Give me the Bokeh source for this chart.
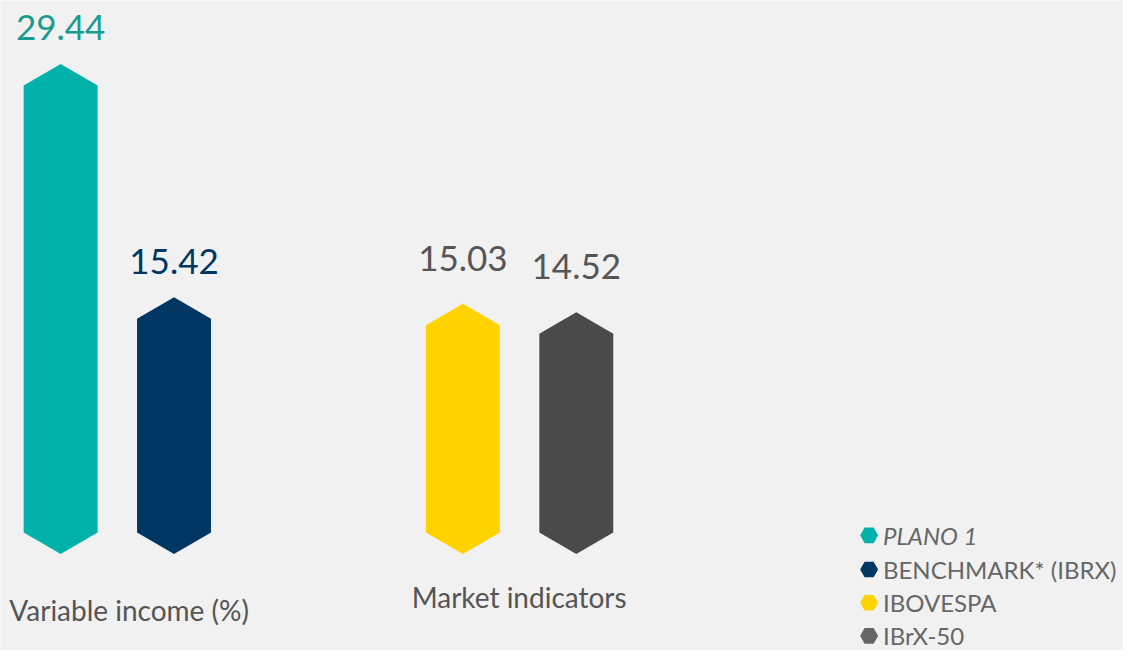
from bokeh.plotting import figure
from bokeh.models import ColumnDataSource, Range1d
from bokeh.embed import file_html
from bokeh.resources import INLINE
from bokeh.core.properties import value

# ---- data ----
series = ["PLANO 1", "BENCHMARK* (IBRX)", "IBOVESPA", "IBrX-50"]
values = [29.44, 15.42, 15.03, 14.52]
value_labels = ["29.44", "15.42", "15.03", "14.52"]
groups = ["Variable income (%)", "Market indicators"]

# ---- style ----
bar_colors = ["#00b2a9", "#003763", "#ffd200", "#4a4a4a"]
label_colors = ["#179c8f", "#003763", "#555555", "#555555"]
legend_colors = ["#00b2a9", "#003763", "#ffd200", "#666666"]
BG = "#f1f1f1"
FONT = "Lato"

W, H = 1123, 650            # figure size (page has 8px margin)
REF_W, REF_H = 1139, 666    # layout coordinate space
PX_PER_UNIT = 17.05         # layout px per value unit
ZERO_Y = 567                # layout px (from top) of value 0
TIP_PX = 22
BAR_W = 75
bar_centers = [61, 176, 469, 584]
label_offsets = [-36, -36, -45, -46]

def ly(px):  # layout px from top -> data y
    return (ZERO_Y - px) / PX_PER_UNIT

tip = TIP_PX / PX_PER_UNIT
xs, ys = [], []
for c, v in zip(bar_centers, values):
    l, r = c - BAR_W / 2, c + BAR_W / 2
    xs.append([c, r, r, c, l, l])
    ys.append([v, v - tip, tip, 0, tip, v - tip])

p = figure(width=W, height=H, output_backend="svg", toolbar_location=None,
           x_range=Range1d(0, REF_W), y_range=Range1d(ly(REF_H), ly(0)),
           min_border=0, background_fill_color=BG, border_fill_color=BG,
           outline_line_color=None)
p.axis.visible = False
p.grid.visible = False

src = ColumnDataSource(dict(xs=xs, ys=ys, color=bar_colors))
p.patches("xs", "ys", fill_color="color", line_color=None, source=src)

lsrc = ColumnDataSource(dict(x=bar_centers, y=values, t=value_labels,
                             c=label_colors, off=label_offsets))
p.text("x", "y", text="t", text_color="c", y_offset="off", source=lsrc,
       text_align="center", text_baseline="alphabetic",
       text_font=value(FONT), text_font_size="35px")

# group labels
grp_x = [9, 417]
grp_y_px = [624, 611]
p.text(x=grp_x, y=[ly(yy) for yy in grp_y_px], text=groups,
       text_color="#555555", text_align="left", text_baseline="alphabetic",
       text_font=value(FONT), text_font_size="28px")

# legend
leg_x = 881
leg_y_px = [548, 583, 617, 651]
leg_y = [ly(yy) for yy in leg_y_px]
p.scatter(x=[leg_x] * 4, y=leg_y, marker="hex", size=18,
          fill_color=legend_colors, line_color=None)
for i, (s, yy) in enumerate(zip(series, leg_y)):
    p.text(x=[leg_x + 14], y=[yy], text=[s], text_color="#666666",
           text_align="left", text_baseline="middle",
           text_font=value(FONT), text_font_size="24px",
           text_font_style="italic" if i == 0 else "normal")

html = file_html(p, INLINE)
html = html.replace("<body>", '<body style="background:%s">' % BG, 1)
open("out.html", "w").write(html)
